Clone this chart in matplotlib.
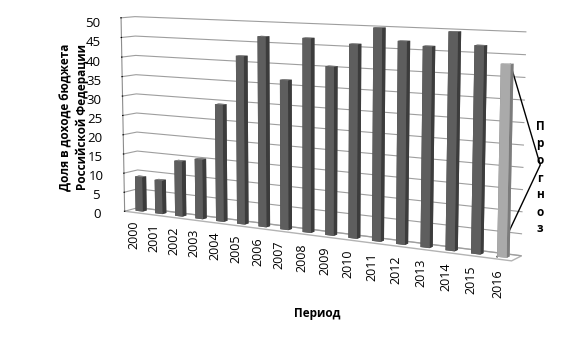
import numpy as np
import matplotlib
matplotlib.use('Agg')
import matplotlib.pyplot as plt

plt.rcParams['font.family'] = ['Open Sans', 'DejaVu Sans']

years = ['2000', '2001', '2002', '2003', '2004', '2005', '2006', '2007', '2008',
         '2009', '2010', '2011', '2012', '2013', '2014', '2015', '2016']
share = [9.0, 8.7, 14.2, 15.2, 29.4, 41.7, 46.7, 36.5, 46.8,
         40.4, 45.9, 49.9, 47.1, 46.2, 49.7, 46.9, 43.1]
forecast_year = '2016'

ylabel = 'Доля в доходе бюджета\nРоссийской Федерации'
xlabel = 'Период'
forecast_label = 'Прогноз'
zticks = list(range(0, 51, 5))

fig = plt.figure(figsize=(5.78, 3.38), dpi=100)
ax = fig.add_axes([0.075, 0.053, 0.9, 1.1], projection='3d')
ax.set_proj_type('persp', focal_length=0.7)
ax.view_init(elev=8, azim=-59)

n = len(years)
pos = np.arange(n)
bar_w = 0.36
bar_d = 0.3

face_colors = []
for y in years:
    if y == forecast_year:
        front, top, side = '#aaaaaa', '#c8c8c8', '#7c7c7c'
    else:
        front, top, side = '#5e5e5e', '#808080', '#3c3c3c'
    # -z, +z, -y, +y, -x, +x
    face_colors += [front, top, front, front, side, side]

bars = ax.bar3d(pos - bar_w / 2, np.full(n, 0.35), np.zeros(n), bar_w, bar_d, share,
                color=face_colors, shade=False, linewidth=0)
bars.set_clip_on(False)

ax.set_xlim(-0.5, n - 0.5)
ax.set_ylim(0, 1)
ax.set_zlim(0, 50)
ax.set_box_aspect((17, 0.9, 7.9), zoom=1.3)

# walls / floor
for axis in (ax.xaxis, ax.yaxis):
    axis.set_pane_color((1, 1, 1, 0))
    axis.pane.set_edgecolor((1, 1, 1, 0))
ax.zaxis.set_pane_color((1, 1, 1, 1))
ax.zaxis.pane.set_edgecolor('0.7')

ax.xaxis._axinfo['grid']['color'] = (1, 1, 1, 0)
ax.yaxis._axinfo['grid']['color'] = (1, 1, 1, 0)
ax.zaxis._axinfo['grid']['color'] = '0.62'
ax.zaxis._axinfo['grid']['linewidth'] = 0.8

ax.xaxis.line.set_color((1, 1, 1, 0))
ax.yaxis.line.set_color((1, 1, 1, 0))
ax.zaxis.line.set_color('0.55')
ax.xaxis._axinfo['tick']['inward_factor'] = 0
ax.xaxis._axinfo['tick']['outward_factor'] = 0
ax.zaxis.set_ticks_position('lower')

ax.set_yticks([])
ax.set_xticks(pos)
ax.set_xticklabels(years, rotation=90, fontsize=9, va='top', ha='center')
ax.set_zticks(zticks)
ax.set_zticklabels([str(t) for t in zticks], fontsize=9.5)
ax.tick_params(axis='x', pad=-2)

# forecast bracket
fc = share[years.index(forecast_year)]
bracket, = ax.plot([n - 1 + bar_w / 2, n + 0.35, n - 1 - bar_w / 2],
                   [0.35, 0.35, 0.35], [fc, fc / 2, 0], color='black', lw=1)
bracket.set_clip_on(False)

fig.text(317 / 578, 1 - 313 / 338, xlabel, fontsize=8.5, fontweight='bold',
         ha='center', va='center')
fig.text(74 / 578, 1 - 117 / 338, ylabel, fontsize=8.5, fontweight='bold',
         rotation=90, ha='center', va='center', linespacing=1.35)
fig.text(540 / 578, 1 - 178 / 338, '\n'.join(forecast_label), fontsize=8.5,
         fontweight='bold', ha='center', va='center', linespacing=1.4)

fig.savefig('out.png', dpi=100)
